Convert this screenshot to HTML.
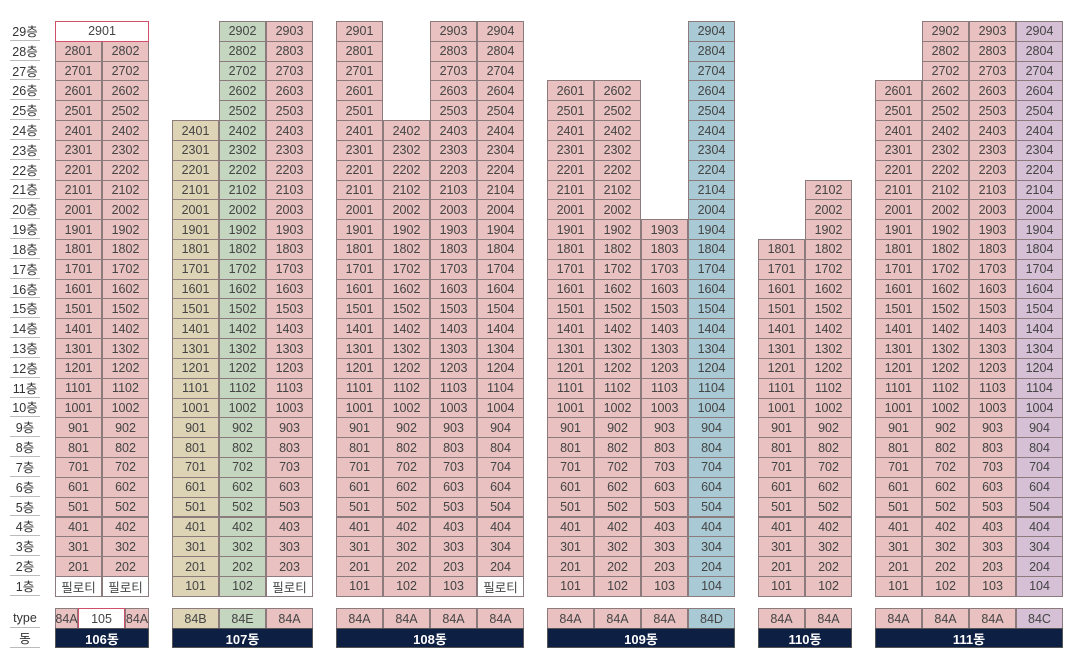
<!DOCTYPE html>
<html><head><meta charset="utf-8">
<style>
body{margin:0;width:1072px;height:659px;background:#fff;font-family:"Liberation Sans","Noto Sans CJK KR",sans-serif;position:relative;overflow:hidden}
.c{position:absolute;box-sizing:border-box;border:1px solid #8c7b7c;font-size:12.5px;color:#444;text-align:center;display:flex;align-items:center;justify-content:center}
.l{position:absolute;left:10px;width:30px;font-size:12.5px;color:#333;text-align:center;border-bottom:1px solid #bbb;box-sizing:border-box;display:flex;align-items:center;justify-content:center}
.n{position:absolute;box-sizing:border-box;background:#0e1f44;color:#fff;font-weight:bold;font-size:13px;display:flex;align-items:center;justify-content:center;border:1px solid #555}
</style></head><body>
<script>
const buildingNames=["106동","107동","108동","109동","110동","111동"];
const buildingLeft=[55,172,336,547,758,875];
const columnTopFloor=[[28,28],[24,29,29],[29,24,29,29],[26,26,19,29],[18,21],[26,29,29,29]];
const columnTypes=[["84A","105","84A"],["84B","84E","84A"],["84A","84A","84A","84A"],["84A","84A","84A","84D"],["84A","84A"],["84A","84A","84A","84C"]];
const columnColors=[["p","p"],["t","g","p"],["p","p","p","p"],["p","p","p","b"],["p","p"],["p","p","p","v"]];
const pilotis=[[0,1],[2],[3],[],[],[]];
const COL={p:"#e8c1c0",t:"#ddd4b6",g:"#c4d6bf",b:"#a9c9d4",v:"#d6c0d5",w:"#fff"};
const CW=47,RH=19.82,TOP=21;
function rowY(f){return TOP+(29-f)*RH;}
function add(cls,x,y,w,h,txt,name){const d=document.createElement('div');d.className=cls;


d.style.left=x+'px';d.style.top=y+'px';d.style.width=w+'px';d.style.height=h+'px';d.textContent=txt;document.body.appendChild(d);return d;}
for(let f=29;f>=1;f--){add('l',10,rowY(f),30,RH,f+'층','floor-label');}
add('l',10,608,30,20,'type','type-label');
add('l',10,628,30,20,'동','building-label');
buildingNames.forEach((bn,bi)=>{
  const x0=buildingLeft[bi];
  columnTopFloor[bi].forEach((top,ci)=>{
    for(let f=1;f<=top;f++){
      const pil=f===1&&pilotis[bi].includes(ci);
      const d=add('c',x0+ci*CW,rowY(f),CW,RH+1,pil?'필로티':(f*100+ci+1),'unit-cell');
      d.style.background=pil?COL.w:COL[columnColors[bi][ci]];
    }
  });
  if(bi===0){
    const d=add('c',x0,rowY(29),CW*2,RH+1,'2901','unit-2901');
    d.style.background='#fff';d.style.border='1.5px solid #d0506a';
    const t=columnTypes[0];
    let a=add('c',x0,608,23,21,t[0],'type-cell');a.style.background=COL.p;
    a=add('c',x0+23,608,47,21,t[1],'type-cell');a.style.background='#fff';a.style.border='1.5px solid #d0506a';
    a=add('c',x0+70,608,24,21,t[2],'type-cell');a.style.background=COL.p;
  } else {
    columnTypes[bi].forEach((t,ci)=>{const a=add('c',x0+ci*CW,608,CW,21,t,'type-cell');a.style.background=COL[columnColors[bi][ci]];});
  }
  add('n',x0,628,CW*columnTopFloor[bi].length,20,bn,'building-name');
});
</script>
</body></html>
